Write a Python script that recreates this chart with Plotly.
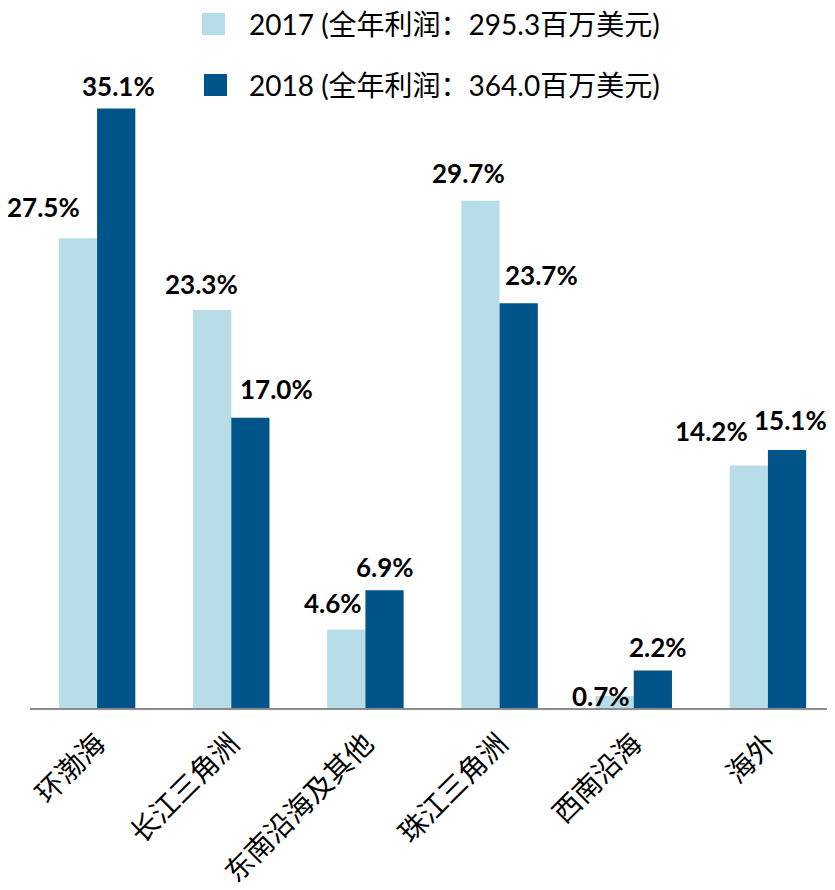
import plotly.graph_objects as go

# ---- data ----
categories = ["环渤海", "长江三角洲", "东南沿海及其他", "珠江三角洲", "西南沿海", "海外"]
series_names = ["2017 (全年利润：295.3百万美元)", "2018 (全年利润：364.0百万美元)"]
values_2017 = [27.5, 23.3, 4.6, 29.7, 0.7, 14.2]
values_2018 = [35.1, 17.0, 6.9, 23.7, 2.2, 15.1]

# ---- styles / label placement (pixels) ----
colors = ["#B7DDE8", "#01548A"]
label_dx_2017 = [-34, -11, -13, -12, -14, -37]
label_dy_2017 = [31, 26, 26, 28, 0, 34]
label_dx_2018 = [2, 26, 0, 23, 5, 3]
label_dy_2018 = [23, 29, 23, 28, 23, 30]

W, H = 835, 890
OFF = 8  # page body margin of the html page
ML, MR, MT, MB = 30 - OFF, OFF, 100 - OFF, 182 + OFF
bargap = 0.43
half = (1 - bargap) / 4.0  # offset of each bar center from category center

fig = go.Figure()
for name, vals, col in zip(series_names, [values_2017, values_2018], colors):
    fig.add_trace(go.Bar(
        x=categories, y=vals, name=name,
        marker=dict(color=col, line=dict(width=0)),
        showlegend=False, hoverinfo="x+y",
    ))

annotations = []
label_font = dict(family="Lato, 'Noto Sans', sans-serif", size=26, color="#000000")
for i, v in enumerate(values_2017):
    annotations.append(dict(
        x=i - half, y=v, xref="x", yref="y", text=f"<b>{v:.1f}%</b>",
        showarrow=False, xanchor="center", yanchor="middle",
        xshift=label_dx_2017[i], yshift=label_dy_2017[i], font=label_font))
for i, v in enumerate(values_2018):
    annotations.append(dict(
        x=i + half, y=v, xref="x", yref="y", text=f"<b>{v:.1f}%</b>",
        showarrow=False, xanchor="center", yanchor="middle",
        xshift=label_dx_2018[i], yshift=label_dy_2018[i], font=label_font))

# ---- custom legend (large square swatches), given in screen pixels ----
pw = W - ML - MR
ph = H - MT - MB
def px2x(px):
    return (px - OFF - ML) / pw
def py2y(py):
    return (H - MB - (py - OFF)) / ph

legend_rows = [(13, 35, 202, 225, 24), (74, 96, 204, 227, 85)]
shapes = []
for (y0, y1, x0, x1, yc), name, col in zip(legend_rows, series_names, colors):
    shapes.append(dict(type="rect", xref="paper", yref="paper",
                       x0=px2x(x0), x1=px2x(x1), y0=py2y(y1), y1=py2y(y0),
                       fillcolor=col, line=dict(width=0)))
    annotations.append(dict(
        x=px2x(247), y=py2y(yc), xref="paper", yref="paper", text=name,
        showarrow=False, xanchor="left", yanchor="middle",
        font=dict(family="Lato, 'Noto Sans CJK SC', sans-serif", size=28, color="#000000")))

fig.update_layout(
    width=W, height=H,
    margin=dict(l=ML, r=MR, t=MT, b=MB, pad=0, autoexpand=False),
    paper_bgcolor="white", plot_bgcolor="white",
    barmode="group", bargap=bargap, bargroupgap=0,
    showlegend=False,
    annotations=annotations, shapes=shapes,
    xaxis=dict(
        type="category", range=[-0.5, len(categories) - 0.5], autorange=False,
        showline=True, linecolor="#8C8C8C", linewidth=2,
        ticks="", showgrid=False, zeroline=False, tickangle=-45, automargin=False,
        ticklabelstandoff=6,
        tickfont=dict(family="'Noto Sans CJK SC', sans-serif", size=28, color="#000000"),
    ),
    yaxis=dict(range=[0, 35.6], autorange=False, visible=False, showgrid=False,
               zeroline=False, automargin=False),
)

fig.write_html("out.html")
